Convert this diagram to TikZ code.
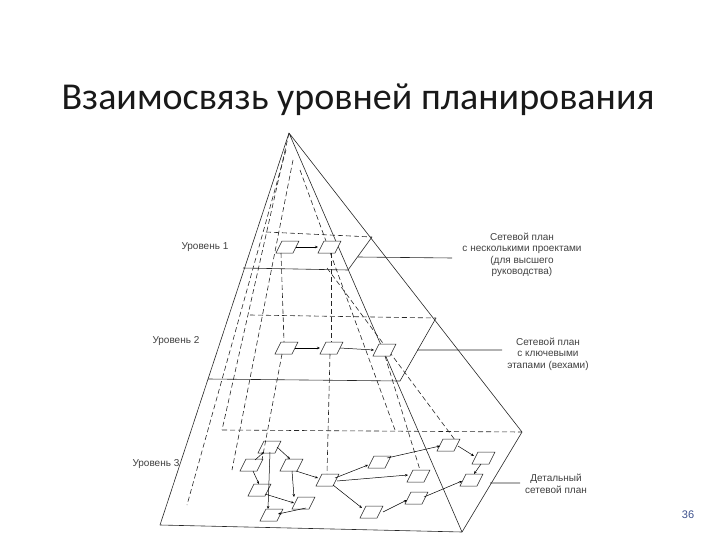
\documentclass[tikz,border=0pt]{standalone}
\usepackage{fontspec}
\setmainfont{Liberation Sans}
\newfontfamily\titlefont{Carlito}
\usetikzlibrary{arrows.meta}
\begin{document}
\begin{tikzpicture}[x=1pt,y=-1pt,line width=0.6pt,
  edge/.style={draw=black!85},
  dsh/.style={draw=black!85,dash pattern=on 5pt off 3pt},
  pbox/.style={draw=black!85,fill=white,line width=0.5pt},
  arr/.style={-{Stealth[length=3pt,width=2.5pt]},line width=0.5pt},
  lbl/.style={font=\fontsize{10}{11.5}\selectfont,text=black!75,align=center}]
\useasboundingbox (0,0) rectangle (720,540);
\node[font=\titlefont\fontsize{38}{40}\selectfont,text=black!90] (title) at (358,100) {Взаимосвязь уровней планирования};
% pyramid corners
\coordinate (apex) at (289,133);
\coordinate (bfl) at (160,525); \coordinate (bfr) at (462,532);
\coordinate (brb) at (522,432); \coordinate (blb) at (222,430);
\coordinate (p1fl) at (243,268); \coordinate (p1fr) at (348,270);
\coordinate (p1rb) at (372,237); \coordinate (p1lb) at (266,232);
\coordinate (p2fl) at (208,379); \coordinate (p2fr) at (400,381);
\coordinate (p2rb) at (436,318); \coordinate (p2lb) at (250,315);
% solid edges
\draw[edge] (apex)--(bfl) (apex)--(bfr) (apex)--(brb);
\draw[edge] (bfl)--(bfr)--(brb);
\draw[dsh] (apex)--(blb) (blb)--(brb);
\draw[edge] (p1fl)--(p1fr)--(p1rb); \draw[dsh] (p1lb)--(p1rb);
\draw[edge] (p2fl)--(p2fr)--(p2rb); \draw[dsh] (p2lb)--(p2rb);
% inner dashed lines
\draw[dsh] (286,150)--(187,505);
\draw[dsh] (293,160)--(232,470);
\draw[dsh] (327,268)--(455,440);
\draw[dsh] (300,170)--(395,430);
% leader lines
\coordinate (c1) at (358,257); \coordinate (c1e) at (452,258);
\coordinate (c2) at (417,350); \coordinate (c2e) at (502,350);
\coordinate (c3) at (490,483); \coordinate (c3e) at (520,483);
\draw[edge] (c1)--(c1e) (c2)--(c2e) (c3)--(c3e);
% level boxes
\foreach \n/\x/\y in {a1/286/247,a2/328/247,b1/285/348,b2/330/348,b3/383/350,
  c1/250/465,c2/268/447,c3/290/465,c4/258/490,c5/302/503,c6/270/515,c7/326/480,
  c8/378/462,c9/417/476,c10/370/512,c11/415/498,c12/447/445,c13/482/458,c14/470/480}
  \node[inner sep=0pt,minimum size=0pt] (\n) at (\x,\y) {};
\foreach \x/\y in {286/247,328/247,285/348,330/348,383/350,
  250/465,268/447,290/465,258/490,302/503,270/515,326/480,
  378/462,417/476,370/512,415/498,447/445,482/458,470/480}
  \draw[pbox] (\x-10,\y+6)--(\x-4,\y-6)--(\x+13,\y-6)--(\x+7,\y+6)--cycle;
% connections
\draw[arr] (296,247)--(318,247);
\draw[arr] (295,348)--(320,348);
\draw[arr] (340,348)--(374,350);
\draw[dsh] (281,253)--(284,342);
\draw[dsh] (331,253)--(331,342);
\draw[dsh] (330,354)--(327,474);
\draw[dsh] (282,354)--(262,460);
\draw[dsh] (385,356)--(420,470);
\draw[arr] (255,460)--(264,452);
\draw[arr] (253,471)--(259,484);
\draw[arr] (277,447)--(290,459);
\draw[arr] (296,471)--(318,478);
\draw[arr] (292,471)--(294,497);
\draw[arr] (270,452)--(268,509);
\draw[arr] (265,494)--(294,503);
\draw[arr] (306,508)--(278,514);
\draw[arr] (335,478)--(368,465);
\draw[arr] (337,481)--(408,475);
\draw[arr] (333,485)--(362,508);
\draw[arr] (383,512)--(407,500);
\draw[arr] (387,458)--(440,446);
\draw[arr] (458,446)--(474,456);
\draw[arr] (481,464)--(474,474);
\draw[arr] (424,497)--(462,481);
% labels
\node[lbl,anchor=east] (u1) at (232,247) {Уровень 1};
\node[lbl,anchor=east] (u2) at (203,341) {Уровень 2};
\node[lbl,anchor=east] (u3) at (183,464) {Уровень 3};
\node[lbl] (t1) at (522,255) {Сетевой план\\с несколькими проектами\\(для высшего\\руководства)};
\node[lbl] (t2) at (548,354) {Сетевой план\\с ключевыми\\этапами (вехами)};
\node[lbl] (t3) at (556,484) {Детальный\\сетевой план};
\node[font=\fontsize{11}{13}\selectfont,text={rgb,255:red,60;green,80;blue,140}] (pg) at (688,515) {36};
\end{tikzpicture}
\end{document}
